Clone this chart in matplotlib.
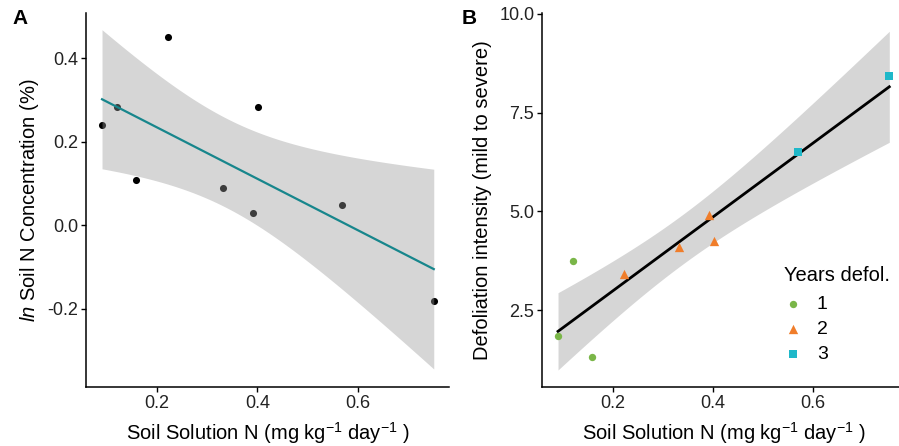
import numpy as np
import matplotlib
matplotlib.use("Agg")
import matplotlib.pyplot as plt
from matplotlib.ticker import FormatStrFormatter

plt.rcParams['font.family'] = ['Liberation Sans', 'DejaVu Sans']
plt.rcParams['mathtext.fontset'] = 'custom'
plt.rcParams['mathtext.rm'] = 'Liberation Sans'
plt.rcParams['mathtext.it'] = 'Liberation Sans:italic'

# data
soil_sol_n = [0.09, 0.12, 0.158, 0.221, 0.332, 0.392, 0.402, 0.569, 0.752]
ln_soil_n = [0.24, 0.283, 0.107, 0.451, 0.088, 0.028, 0.282, 0.047, -0.182]
defol = [1.85, 3.74, 1.32, 3.41, 4.10, 4.92, 4.25, 6.50, 8.42]
years = [1, 1, 1, 2, 2, 2, 2, 3, 3]

year_levels = [1, 2, 3]
year_colors = {1: "#7AB648", 2: "#F07D2A", 3: "#1FB8C9"}
year_markers = {1: "o", 2: "^", 3: "s"}
year_sizes = {1: 28, 2: 45, 3: 30}


def lm_band(x, y, t975=2.3646):
    # plain least squares fit with 95% confidence band (like geom_smooth(method="lm"))
    x = np.asarray(x)
    y = np.asarray(y)
    b, a = np.polyfit(x, y, 1)
    xs = np.linspace(x.min(), x.max(), 100)
    fit = a + b * xs
    resid = y - (a + b * x)
    s = np.sqrt(np.sum(resid ** 2) / (len(x) - 2))
    se = s * np.sqrt(1 / len(x) + (xs - x.mean()) ** 2 / np.sum((x - x.mean()) ** 2))
    return xs, fit, fit - t975 * se, fit + t975 * se


fig = plt.figure(figsize=(8.99, 4.46), dpi=100)
W, H = 899, 446
axA = fig.add_axes([86 / W, 1 - 387 / H, (449.3 - 86) / W, 374 / H])
axB = fig.add_axes([542 / W, 1 - 387 / H, (904.8 - 542) / W, 374 / H])

xlab = "Soil Solution N (mg kg$^{-1}$ day$^{-1}$ )"

# ---- panel A
axA.scatter(soil_sol_n, ln_soil_n, s=26, color="black", zorder=2, linewidths=0)
xs, fit, lo, hi = lm_band(soil_sol_n, ln_soil_n)
axA.fill_between(xs, lo, hi, color="#999999", alpha=0.4, linewidth=0, zorder=3)
axA.plot(xs, fit, color="#17868C", lw=1.6, zorder=4)
axA.set_xlim(0.058, 0.783)
axA.set_ylim(-0.388, 0.508)
axA.set_xticks([0.2, 0.4, 0.6])
axA.set_yticks([-0.2, 0.0, 0.2, 0.4])
axA.yaxis.set_major_formatter(FormatStrFormatter("%.1f"))
axA.set_ylabel("$\\it{ln}$ Soil N Concentration (%)", fontsize=14.5, labelpad=5)
axA.set_xlabel(xlab, fontsize=14.5, labelpad=6)

# ---- panel B
xs, fit, lo, hi = lm_band(soil_sol_n, defol)
axB.fill_between(xs, lo, hi, color="#999999", alpha=0.4, linewidth=0, zorder=1)
axB.plot(xs, fit, color="black", lw=2.0, zorder=2)
for yr in year_levels:
    xx = [x for x, g in zip(soil_sol_n, years) if g == yr]
    yy = [v for v, g in zip(defol, years) if g == yr]
    axB.scatter(xx, yy, s=year_sizes[yr], marker=year_markers[yr],
                color=year_colors[yr], linewidths=0, zorder=3, label=str(yr))
axB.set_xlim(0.058, 0.783)
axB.set_ylim(0.56, 10.02)
axB.set_xticks([0.2, 0.4, 0.6])
axB.set_yticks([2.5, 5.0, 7.5, 10.0])
axB.yaxis.set_major_formatter(FormatStrFormatter("%.1f"))
axB.set_ylabel("Defoliation intensity (mild to severe)", fontsize=14.5, labelpad=5)
axB.set_xlabel(xlab, fontsize=14.5, labelpad=6)
leg = axB.legend(title="Years defol.", frameon=False, fontsize=14, title_fontsize=14.5,
                 loc="upper left", bbox_to_anchor=(774 / W, 1 - 256 / H),
                 bbox_transform=fig.transFigure, handletextpad=0.7,
                 labelspacing=0.36, borderpad=0, alignment="left", handlelength=1.0)
leg._legend_box.sep = 8

for ax in (axA, axB):
    for side in ("top", "right"):
        ax.spines[side].set_visible(False)
    for side in ("left", "bottom"):
        ax.spines[side].set_linewidth(1.1)
    ax.tick_params(length=3.5, width=1.0, labelsize=13, labelcolor="#222222", pad=2)

fig.text(12 / W, 1 - 18 / H, "A", fontsize=15, fontweight="bold", va="center")
fig.text(462 / W, 1 - 18 / H, "B", fontsize=15, fontweight="bold", va="center")

fig.savefig("out.png", dpi=100)
